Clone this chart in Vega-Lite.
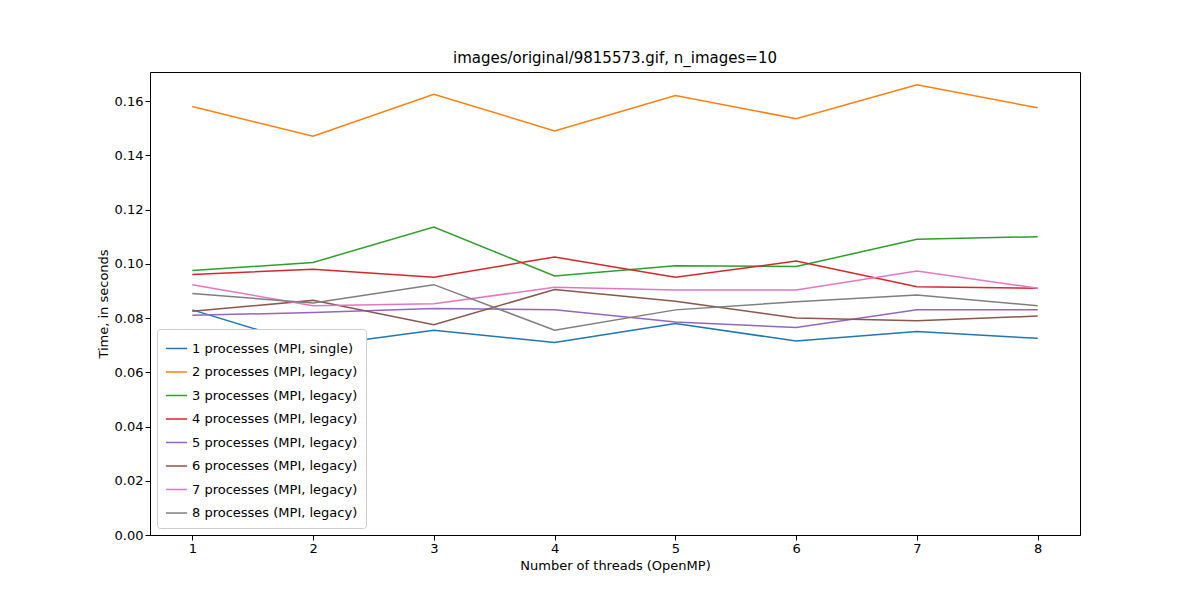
{
"$schema":"https://vega.github.io/schema/vega-lite/v6.json",
"width":930,"height":463,
"autosize":{"type":"none"},
"padding":{"left":150,"top":72,"right":120,"bottom":65},
"title":{"text":"images/original/9815573.gif, n_images=10","fontSize":15,"fontWeight":"normal","font":"DejaVu Sans","offset":6},
"config":{"font":"DejaVu Sans","view":{"stroke":"black"},"axis":{"grid":false,"labelFontSize":13,"titleFontSize":13,"titleFontWeight":"normal","domainColor":"black","tickColor":"black","labelColor":"black"}},
"data":{"values":[
{"t":1,"s":"1 processes (MPI, single)","v":0.083},{"t":2,"s":"1 processes (MPI, single)","v":0.0695},{"t":3,"s":"1 processes (MPI, single)","v":0.0755},{"t":4,"s":"1 processes (MPI, single)","v":0.071},{"t":5,"s":"1 processes (MPI, single)","v":0.078},{"t":6,"s":"1 processes (MPI, single)","v":0.0715},{"t":7,"s":"1 processes (MPI, single)","v":0.075},{"t":8,"s":"1 processes (MPI, single)","v":0.0725},
{"t":1,"s":"2 processes (MPI, legacy)","v":0.158},{"t":2,"s":"2 processes (MPI, legacy)","v":0.147},{"t":3,"s":"2 processes (MPI, legacy)","v":0.1625},{"t":4,"s":"2 processes (MPI, legacy)","v":0.149},{"t":5,"s":"2 processes (MPI, legacy)","v":0.162},{"t":6,"s":"2 processes (MPI, legacy)","v":0.1535},{"t":7,"s":"2 processes (MPI, legacy)","v":0.166},{"t":8,"s":"2 processes (MPI, legacy)","v":0.1575},
{"t":1,"s":"3 processes (MPI, legacy)","v":0.0975},{"t":2,"s":"3 processes (MPI, legacy)","v":0.1005},{"t":3,"s":"3 processes (MPI, legacy)","v":0.1135},{"t":4,"s":"3 processes (MPI, legacy)","v":0.0955},{"t":5,"s":"3 processes (MPI, legacy)","v":0.0993},{"t":6,"s":"3 processes (MPI, legacy)","v":0.099},{"t":7,"s":"3 processes (MPI, legacy)","v":0.109},{"t":8,"s":"3 processes (MPI, legacy)","v":0.110},
{"t":1,"s":"4 processes (MPI, legacy)","v":0.096},{"t":2,"s":"4 processes (MPI, legacy)","v":0.098},{"t":3,"s":"4 processes (MPI, legacy)","v":0.095},{"t":4,"s":"4 processes (MPI, legacy)","v":0.1025},{"t":5,"s":"4 processes (MPI, legacy)","v":0.095},{"t":6,"s":"4 processes (MPI, legacy)","v":0.101},{"t":7,"s":"4 processes (MPI, legacy)","v":0.0915},{"t":8,"s":"4 processes (MPI, legacy)","v":0.091},
{"t":1,"s":"5 processes (MPI, legacy)","v":0.081},{"t":2,"s":"5 processes (MPI, legacy)","v":0.082},{"t":3,"s":"5 processes (MPI, legacy)","v":0.0835},{"t":4,"s":"5 processes (MPI, legacy)","v":0.083},{"t":5,"s":"5 processes (MPI, legacy)","v":0.0785},{"t":6,"s":"5 processes (MPI, legacy)","v":0.0765},{"t":7,"s":"5 processes (MPI, legacy)","v":0.083},{"t":8,"s":"5 processes (MPI, legacy)","v":0.083},
{"t":1,"s":"6 processes (MPI, legacy)","v":0.0825},{"t":2,"s":"6 processes (MPI, legacy)","v":0.0865},{"t":3,"s":"6 processes (MPI, legacy)","v":0.0775},{"t":4,"s":"6 processes (MPI, legacy)","v":0.0905},{"t":5,"s":"6 processes (MPI, legacy)","v":0.0862},{"t":6,"s":"6 processes (MPI, legacy)","v":0.080},{"t":7,"s":"6 processes (MPI, legacy)","v":0.079},{"t":8,"s":"6 processes (MPI, legacy)","v":0.0807},
{"t":1,"s":"7 processes (MPI, legacy)","v":0.0923},{"t":2,"s":"7 processes (MPI, legacy)","v":0.0845},{"t":3,"s":"7 processes (MPI, legacy)","v":0.0853},{"t":4,"s":"7 processes (MPI, legacy)","v":0.0913},{"t":5,"s":"7 processes (MPI, legacy)","v":0.0903},{"t":6,"s":"7 processes (MPI, legacy)","v":0.0903},{"t":7,"s":"7 processes (MPI, legacy)","v":0.0973},{"t":8,"s":"7 processes (MPI, legacy)","v":0.091},
{"t":1,"s":"8 processes (MPI, legacy)","v":0.089},{"t":2,"s":"8 processes (MPI, legacy)","v":0.0855},{"t":3,"s":"8 processes (MPI, legacy)","v":0.0923},{"t":4,"s":"8 processes (MPI, legacy)","v":0.0755},{"t":5,"s":"8 processes (MPI, legacy)","v":0.083},{"t":6,"s":"8 processes (MPI, legacy)","v":0.086},{"t":7,"s":"8 processes (MPI, legacy)","v":0.0885},{"t":8,"s":"8 processes (MPI, legacy)","v":0.0845}
]},
"mark":{"type":"line","strokeWidth":1.5},
"encoding":{
"x":{"field":"t","type":"quantitative","title":"Number of threads (OpenMP)","scale":{"domain":[0.65,8.35],"nice":false,"zero":false},"axis":{"values":[1,2,3,4,5,6,7,8],"format":"d"}},
"y":{"field":"v","type":"quantitative","title":"Time, in seconds","scale":{"domain":[0,0.1707],"nice":false},"axis":{"values":[0,0.02,0.04,0.06,0.08,0.1,0.12,0.14,0.16],"format":".2f"}},
"color":{"field":"s","type":"nominal","title":null,"scale":{"range":["#1f77b4","#ff7f0e","#2ca02c","#d62728","#9467bd","#8c564b","#e377c2","#7f7f7f"]},
"legend":{"orient":"bottom-left","offset":7,"symbolType":"stroke","symbolStrokeWidth":1.5,"symbolSize":450,"labelFontSize":13,"rowPadding":4.5,"padding":8,"fillColor":"white","strokeColor":"#cccccc","cornerRadius":3,"labelLimit":300}}
}
}
